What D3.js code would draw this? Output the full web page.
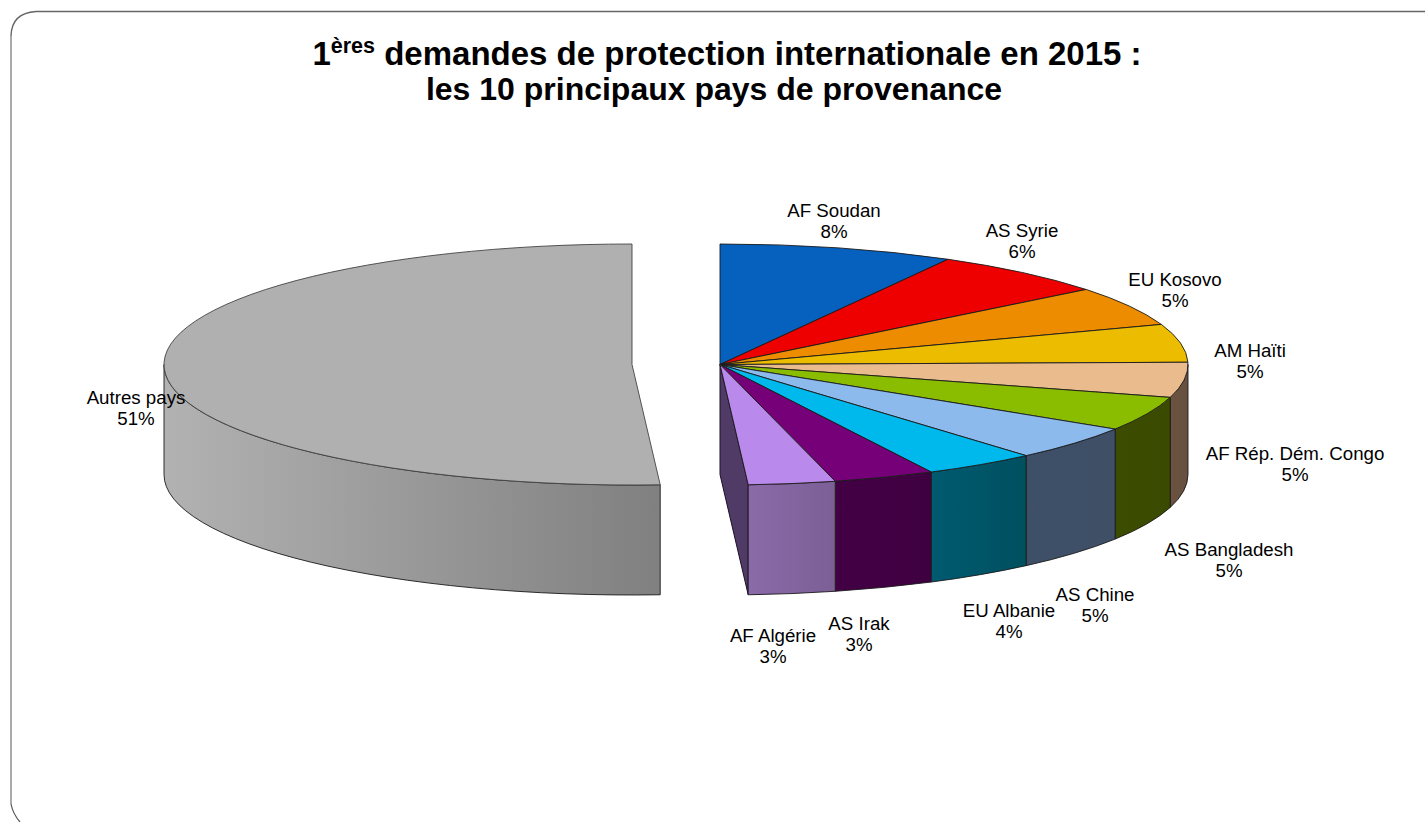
<!DOCTYPE html>
<html lang="fr">
<head>
<meta charset="utf-8">
<title>1ères demandes de protection internationale en 2015</title>
<script src="https://cdn.jsdelivr.net/npm/d3@7"></script>
<style>
  html, body { margin: 0; padding: 0; background: #fff; overflow: hidden; }
  svg { display: block; }
  text { font-family: "Liberation Sans", Arial, sans-serif; fill: #000; }
</style>
</head>
<body>
<div class="chart"></div>
<script>
// values, labels round them
let categories = ['AF Soudan', 'AS Syrie', 'EU Kosovo', 'AM Haïti', 'AF Rép. Dém. Congo', 'AS Bangladesh', 'AS Chine', 'EU Albanie', 'AS Irak', 'AF Algérie', 'Autres pays'];
let shares = [8.1, 6.2, 5.3, 5.1, 4.7, 4.6, 4.65, 3.9, 3.49, 3.0, 50.96];

let topColors = ['#0561bd', '#ee0000', '#ee8c00', '#ecbc00', '#eabb8c', '#8abc00', '#8cbaec', '#00b9ec', '#750077', '#b98aec', '#b0b0b0'];
let rimLight = ['#03305e', '#770000', '#774600', '#765e00', '#6b5240', '#3c4c00', '#3e5068', '#005a70', '#430045', '#8a6aa8', '#b2b2b2'];
let rimDark = ['#03305e', '#770000', '#774600', '#765e00', '#675040', '#3a4a00', '#3e4f66', '#00505f', '#3f0040', '#7c5f96', '#808080'];

// label centres, same order as categories
let labelX = [834, 1022, 1175, 1250, 1295, 1229, 1095, 1009, 859, 773, 136];
let labelY = [211, 231, 280, 351, 454, 550, 595, 611, 624, 636, 398];

let width = 1425,
    height = 822,
    cx = 720,
    cy = 364.5,
    rx = 468,
    ry = 120.5,
    depth = 110,
    explode = -88; // the "Autres pays" slice is pulled out to the left

let svg = d3.select('.chart')
  .append('svg')
  .attr('width', width)
  .attr('height', height);

let defs = svg.append('defs');

// frame of the slide
svg.append('path')
  .attr('d', 'M1425,11.5 H36 Q11.5,13 11,36')
  .attr('fill', 'none')
  .attr('stroke', '#666')
  .attr('stroke-width', 1.4);
svg.append('path')
  .attr('d', 'M11,36 V804')
  .attr('fill', 'none')
  .attr('stroke', '#aaa')
  .attr('stroke-width', 2);
svg.append('path')
  .attr('d', 'M11,804 Q13,814 20,822')
  .attr('fill', 'none')
  .attr('stroke', '#555')
  .attr('stroke-width', 1.2);

// title
let title = svg.append('text')
  .attr('text-anchor', 'middle')
  .style('font-weight', 'bold')
  .style('font-size', '33px');
let line1 = title.append('tspan').attr('x', 727).attr('y', 65);
line1.append('tspan').text('1');
line1.append('tspan').attr('dy', -12).style('font-size', '21.5px').text('ères');
line1.append('tspan').attr('dy', 12).text(' demandes de protection internationale en 2015 :');
title.append('tspan').attr('x', 714).attr('y', 100).style('font-size', '32px').text('les 10 principaux pays de provenance');

let pie = d3.pie().sort(null).value((d) => d.share);
let slices = pie(categories.map((c, i) => ({ name: c, share: shares[i], index: i })));

// unit circle to the flattened pie on screen
let px = d3.scaleLinear().domain([-1, 1]).range([cx - rx, cx + rx]);
let py = d3.scaleLinear().domain([-1, 1]).range([cy - ry, cy + ry]);

function pt(a, i, drop) {
  let dx = i === 10 ? explode : 0;
  return [px(Math.sin(a)) + dx, py(-Math.cos(a)) + (drop || 0)];
}

function arcTo(a0, a1, i, drop, sweep) {
  let p = pt(a1, i, drop);
  let large = Math.abs(a1 - a0) > Math.PI ? 1 : 0;
  return 'A' + rx + ',' + ry + ' 0 ' + large + ' ' + sweep + ' ' + p[0] + ',' + p[1];
}

function topPath(d) {
  let i = d.data.index;
  let c = [px(0) + (i === 10 ? explode : 0), py(0)];
  let p0 = pt(d.startAngle, i);
  return 'M' + c + 'L' + p0 + arcTo(d.startAngle, d.endAngle, i, 0, 1) + 'Z';
}

// only the front half of the outer edge can be seen
function rimPath(d) {
  let i = d.data.index;
  let a0 = Math.max(d.startAngle, Math.PI / 2);
  let a1 = Math.min(d.endAngle, Math.PI * 1.5);
  if (a1 <= a0) return null;
  return 'M' + pt(a0, i) + arcTo(a0, a1, i, 0, 1) +
    'L' + pt(a1, i, depth) + arcTo(a1, a0, i, depth, 0) + 'Z';
}

// gradients for the rims
slices.forEach(function(d) {
  let i = d.data.index;
  let a0 = Math.max(d.startAngle, Math.PI / 2);
  let a1 = Math.min(d.endAngle, Math.PI * 1.5);
  if (a1 <= a0) return;
  let grad = defs.append('linearGradient')
    .attr('id', 'rim' + i)
    .attr('gradientUnits', 'userSpaceOnUse')
    .attr('x1', Math.min(pt(a0, i)[0], pt(a1, i)[0]))
    .attr('x2', Math.max(pt(a0, i)[0], pt(a1, i)[0]))
    .attr('y1', 0)
    .attr('y2', 0);
  grad.append('stop').attr('offset', 0).attr('stop-color', rimLight[i]);
  grad.append('stop').attr('offset', 1).attr('stop-color', rimDark[i]);
});

// inner wall of the last small slice, seen through the gap
let last = slices[9];
let lastEnd = pt(last.endAngle, 9);
svg.append('path')
  .attr('d', 'M' + [px(0), py(0)] + 'L' + lastEnd + 'L' + pt(last.endAngle, 9, depth) + 'L' + [px(0), py(0) + depth] + 'Z')
  .attr('fill', '#503a66')
  .attr('stroke', '#1c1026')
  .attr('stroke-width', 1)
  .attr('stroke-linejoin', 'round');

svg.append('g')
  .selectAll('path')
  .data(slices.filter(rimPath))
  .enter()
  .append('path')
  .attr('d', rimPath)
  .attr('fill', (d) => 'url(#rim' + d.data.index + ')')
  .attr('stroke', '#1a1a1a')
  .attr('stroke-width', 0.9)
  .attr('stroke-linejoin', 'round');

svg.append('g')
  .selectAll('path')
  .data(slices)
  .enter()
  .append('path')
  .attr('d', topPath)
  .attr('fill', (d) => topColors[d.data.index])
  .attr('stroke', (d) => d.data.index === 10 ? '#444' : '#1a1a1a')
  .attr('stroke-width', 0.9)
  .attr('stroke-linejoin', 'round');

// labels
let labels = svg.append('g')
  .selectAll('text')
  .data(slices)
  .enter()
  .append('text')
  .attr('text-anchor', 'middle')
  .style('font-size', '18.7px');

labels.append('tspan')
  .attr('x', (d) => labelX[d.data.index])
  .attr('y', (d) => labelY[d.data.index] + 6)
  .text((d) => d.data.name);

labels.append('tspan')
  .attr('x', (d) => labelX[d.data.index])
  .attr('y', (d) => labelY[d.data.index] + 27)
  .text((d) => Math.round(d.data.share) + '%');
</script>
</body>
</html>
